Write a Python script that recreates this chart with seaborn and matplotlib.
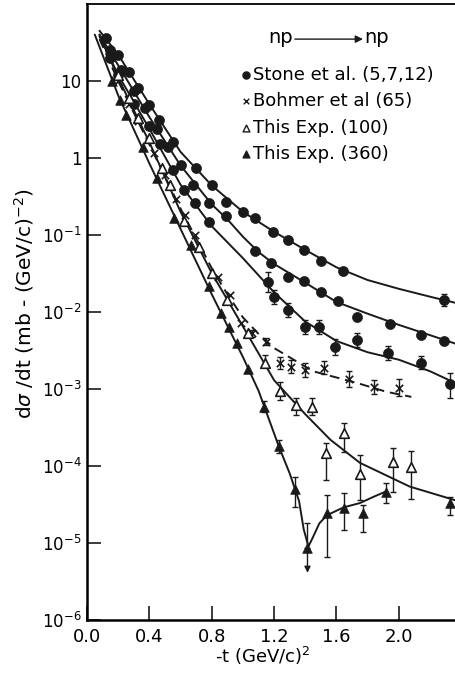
import numpy as np
import pandas as pd
import matplotlib
matplotlib.use("Agg")
import matplotlib.pyplot as plt
from matplotlib.ticker import NullLocator
import seaborn as sns

# values: -t in (GeV/c)^2, dsigma/dt in mb/(GeV/c)^2
# Stone et al., three momenta (upper, middle, lower curve)
stone1_t = [0.12, 0.2, 0.27, 0.33, 0.4, 0.46, 0.55, 0.7, 0.8, 0.89, 1.0, 1.08, 1.19, 1.29, 1.39, 1.5, 1.64, 2.29]
stone1_v = [36, 22, 13, 8.1, 4.9, 3.1, 1.6, 0.74, 0.45, 0.27, 0.2, 0.166, 0.109, 0.086, 0.064, 0.046, 0.034, 0.0143]
stone1_lo = [np.nan] * 17 + [0.012]
stone1_hi = [np.nan] * 17 + [0.017]
stone1_fit_t = [0.08, 0.2, 0.4, 0.6, 0.8, 1.0, 1.2, 1.4, 1.6, 1.8, 2.0, 2.2, 2.36]
stone1_fit_v = [45, 22, 5, 1.2, 0.44, 0.2, 0.11, 0.064, 0.038, 0.026, 0.020, 0.0158, 0.0132]

stone2_t = [0.15, 0.22, 0.3, 0.37, 0.45, 0.52, 0.6, 0.68, 0.78, 0.89, 1.08, 1.18, 1.29, 1.39, 1.5, 1.61, 1.73, 1.94, 2.14, 2.29]
stone2_v = [25, 14, 7.5, 4.5, 2.4, 1.4, 0.8, 0.45, 0.26, 0.177, 0.062, 0.043, 0.0285, 0.0253, 0.018, 0.0139, 0.0086, 0.007, 0.005, 0.0042]
stone2_fit_t = [0.08, 0.2, 0.4, 0.6, 0.8, 0.9, 1.0, 1.1, 1.2, 1.4, 1.6, 1.8, 2.0, 2.2, 2.36]
stone2_fit_v = [40, 16, 3.4, 0.8, 0.25, 0.16, 0.095, 0.06, 0.042, 0.024, 0.0135, 0.0095, 0.0068, 0.005, 0.0039]

stone3_t = [0.15, 0.2, 0.3, 0.4, 0.47, 0.55, 0.62, 0.69, 0.78, 1.16, 1.2, 1.29, 1.4, 1.49, 1.59, 1.73, 1.93, 2.14, 2.33]
stone3_v = [20, 12, 5, 2.6, 1.5, 0.7, 0.38, 0.26, 0.148, 0.0245, 0.0157, 0.0106, 0.0064, 0.0064, 0.0035, 0.0043, 0.0029, 0.0022, 0.00116]
stone3_lo = [np.nan] * 9 + [0.018, 0.0127, 0.0086, 0.0052, 0.0052, 0.0028, 0.0035, 0.0024, 0.0018, 0.00076]
stone3_hi = [np.nan] * 9 + [0.033, 0.0193, 0.013, 0.0079, 0.0079, 0.0044, 0.0053, 0.0036, 0.0027, 0.0016]
stone3_fit_t = [0.08, 0.2, 0.4, 0.6, 0.8, 1.0, 1.2, 1.4, 1.6, 1.8, 2.0, 2.2, 2.36]
stone3_fit_v = [38, 12, 2.4, 0.45, 0.13, 0.05, 0.018, 0.0075, 0.0042, 0.003, 0.0024, 0.0017, 0.0012]

# Bohmer et al. (65)
bohmer_t = [0.2, 0.27, 0.33, 0.43, 0.5, 0.57, 0.63, 0.69, 0.84, 0.92, 0.99, 1.06, 1.15, 1.24, 1.31, 1.4, 1.52, 1.68, 1.84, 2.0]
bohmer_v = [10, 5, 3, 1.16, 0.6, 0.29, 0.18, 0.1, 0.0285, 0.0166, 0.0072, 0.0053, 0.0041, 0.0022, 0.00195, 0.00178, 0.0019, 0.00135, 0.00107, 0.00103]
bohmer_lo = [np.nan] * 11 + [0.0047, 0.0037, 0.0018, 0.0016, 0.00145, 0.00155, 0.00107, 0.00087, 0.0008]
bohmer_hi = [np.nan] * 11 + [0.0059, 0.0046, 0.0026, 0.0024, 0.0022, 0.0023, 0.0017, 0.0013, 0.00133]
bohmer_fit_t = [0.08, 0.2, 0.4, 0.6, 0.8, 0.9, 1.0, 1.1, 1.2, 1.45, 1.73, 1.92, 2.08]
bohmer_fit_v = [35, 10, 1.5, 0.22, 0.037, 0.017, 0.0085, 0.0052, 0.0034, 0.0017, 0.0012, 0.00092, 0.00079]

# This experiment, 100 GeV/c (open triangles)
exp100_t = [0.2, 0.27, 0.33, 0.4, 0.48, 0.53, 0.62, 0.72, 0.8, 0.9, 1.03, 1.14, 1.24, 1.34, 1.44, 1.53, 1.65, 1.75, 1.96, 2.08]
exp100_v = [12, 6, 3.3, 1.8, 0.75, 0.45, 0.15, 0.07, 0.032, 0.0145, 0.0053, 0.0022, 0.00094, 0.00062, 0.00058,
            1.48e-4, 2.7e-4, 7.9e-5, 1.12e-4, 9.8e-5]
exp100_lo = [np.nan] * 11 + [0.00195, 0.00072, 0.00046, 0.00046, 6.6e-5, 1.5e-4, 3.6e-5, 4.6e-5, 3.7e-5]
exp100_hi = [np.nan] * 11 + [0.00275, 0.00123, 0.00076, 0.00076, 2.0e-4, 3.6e-4, 1.38e-4, 1.7e-4, 1.55e-4]
exp100_fit_t = [0.08, 0.2, 0.4, 0.6, 0.8, 1.0, 1.2, 1.4, 1.56, 1.75, 2.07, 2.36]
exp100_fit_v = [40, 11, 1.6, 0.2, 0.032, 0.0065, 0.0013, 0.00047, 0.00022, 0.00011, 5.4e-5, 3.6e-5]

# This experiment, 360 GeV/c (filled triangles); the dip point is an upper limit
exp360_t = [0.16, 0.21, 0.25, 0.36, 0.45, 0.56, 0.67, 0.78, 0.86, 0.91, 0.96, 1.03, 1.135, 1.23, 1.336, 1.414,
            1.54, 1.645, 1.77, 1.917, 2.33]
exp360_v = [10, 5.6, 3.6, 1.4, 0.55, 0.166, 0.075, 0.022, 0.0098, 0.0064, 0.004, 0.0018, 0.00059, 1.8e-4, 5.1e-5, 8.6e-6,
            2.45e-5, 2.85e-5, 2.45e-5, 4.6e-5, 3.3e-5]
exp360_lo = [np.nan] * 12 + [0.0005, 1.47e-4, 2.95e-5, 4.1e-6, 6.6e-6, 1.48e-5, 1.38e-5, 3.3e-5, 2.3e-5]
exp360_hi = [np.nan] * 12 + [0.00069, 2.2e-4, 7.2e-5, 1.8e-5, 4.2e-5, 4.5e-5, 3.1e-5, 6.0e-5, 4.0e-5]
exp360_limit = [False] * 15 + [True] + [False] * 5
exp360_fit_t = [0.05, 0.2, 0.4, 0.6, 0.8, 1.0, 1.1, 1.23, 1.3, 1.36, 1.39, 1.42, 1.45, 1.49, 1.54, 1.645, 1.75, 1.84, 1.92]
exp360_fit_v = [40, 6.5, 0.85, 0.12, 0.017, 0.0026, 0.00095, 0.00018, 8e-5, 3.5e-5, 1.5e-5, 9e-6, 1.2e-5, 1.8e-5,
                2.3e-5, 2.9e-5, 3.3e-5, 4e-5, 4.7e-5]

legend_labels = ["Stone et al. (5,7,12)", "Bohmer et al (65)", "This Exp. (100)", "This Exp. (360)"]
ytick_vals = [1e-6, 1e-5, 1e-4, 1e-3, 1e-2, 1e-1, 1, 10]
ytick_labels = ["$10^{-6}$", "$10^{-5}$", "$10^{-4}$", "$10^{-3}$", "$10^{-2}$", "$10^{-1}$", "1", "10"]
xtick_vals = [0.0, 0.4, 0.8, 1.2, 1.6, 2.0]

sns.set_theme(style="ticks")
plt.rcParams["font.family"] = ["DejaVu Sans"]
plt.rcParams["mathtext.fontset"] = "dejavusans"
for key in ["text.color", "axes.labelcolor", "xtick.color", "ytick.color", "axes.edgecolor"]:
    plt.rcParams[key] = "black"

fig = plt.figure(figsize=(4.55, 6.77), dpi=100)
ax = fig.add_axes([87 / 455, 57 / 677, 368 / 455, 616 / 677])
ax.set_yscale("log")
ax.set_xlim(0, 2.36)
ax.set_ylim(1e-6, 100)


def fit_line(t, v, dash=None):
    sns.lineplot(x=t, y=v, ax=ax, color="k", lw=1.4, estimator=None, sort=False, zorder=2)
    if dash is not None:
        ax.lines[-1].set_linestyle((0, dash))


def points(t, v, lo=None, hi=None, **kw):
    sns.scatterplot(x=t, y=v, ax=ax, zorder=4, clip_on=False, **kw)
    if lo is None:
        return
    df = pd.DataFrame({"t": t, "v": v, "lo": lo, "hi": hi}).dropna()
    ax.errorbar(df["t"], df["v"], yerr=[df["v"] - df["lo"], df["hi"] - df["v"]], fmt="none",
                ecolor="k", elinewidth=1.0, capsize=2.5, capthick=1.0, zorder=3)


fit_line(stone1_fit_t, stone1_fit_v)
fit_line(stone2_fit_t, stone2_fit_v)
fit_line(stone3_fit_t, stone3_fit_v)
fit_line(bohmer_fit_t, bohmer_fit_v, dash=(5, 3))
fit_line(exp100_fit_t, exp100_fit_v)
fit_line(exp360_fit_t, exp360_fit_v)

dot = dict(marker="o", s=52, color="k", edgecolor="k", linewidth=0.5)
points(stone1_t, stone1_v, stone1_lo, stone1_hi, **dot)
points(stone2_t, stone2_v, **dot)
points(stone3_t, stone3_v, stone3_lo, stone3_hi, **dot)
points(bohmer_t, bohmer_v, bohmer_lo, bohmer_hi, marker="x", s=28, color="k", linewidth=1.2)
points(exp100_t, exp100_v, exp100_lo, exp100_hi, marker="^", s=48, color="white", edgecolor="k", linewidth=1.2)

# filled triangles: ordinary bars, plus the upper limit drawn as an arrow
lim = np.array(exp360_limit)
t360, v360 = np.array(exp360_t), np.array(exp360_v)
lo360, hi360 = np.array(exp360_lo), np.array(exp360_hi)
points(t360, v360, np.where(lim, np.nan, lo360), np.where(lim, np.nan, hi360),
       marker="^", s=48, color="k", edgecolor="k", linewidth=0.5)
for t, v, lo, hi in zip(t360[lim], v360[lim], lo360[lim], hi360[lim]):
    ax.errorbar([t], [v], yerr=[[0], [hi - v]], fmt="none", ecolor="k", elinewidth=1.0, capsize=2.5, zorder=3)
    ax.annotate("", xy=(t, lo), xytext=(t, v),
                arrowprops=dict(arrowstyle="-|>", color="k", lw=1.0, mutation_scale=9, shrinkA=0, shrinkB=0))

# axes styling
ax.set_yticks(ytick_vals)
ax.set_yticklabels(ytick_labels)
ax.yaxis.set_minor_locator(NullLocator())
ax.set_xticks(xtick_vals)
ax.set_xticklabels([f"{x:.1f}" for x in xtick_vals])
ax.tick_params(axis="both", direction="in", length=10, width=1.2, color="k")
ax.tick_params(axis="x", pad=6, labelsize=13)
ax.tick_params(axis="y", pad=4, labelsize=12)
ax.spines["right"].set_visible(False)
ax.spines["left"].set_linewidth(1.8)
ax.spines["bottom"].set_linewidth(1.8)
ax.spines["top"].set_linewidth(1.3)
ax.set_xlabel("-t (GeV/c)$^2$", fontsize=13)
ax.xaxis.set_label_coords((263 - 87) / 368, -0.040)
ax.set_ylabel("d$\\sigma$ /dt (mb - (GeV/c)$^{-2}$)", fontsize=14.5)
ax.yaxis.set_label_coords(-0.139, 0.513)

# reaction label and legend written as text
ax.text(0.560, 0.946, "np", transform=ax.transAxes, fontsize=14, ha="right", va="center")
ax.text(0.753, 0.946, "np", transform=ax.transAxes, fontsize=14, ha="left", va="center")
ax.annotate("", xy=(0.750, 0.943), xytext=(0.565, 0.943), xycoords="axes fraction",
            arrowprops=dict(arrowstyle="-|>", color="k", lw=1.0, mutation_scale=11, shrinkA=0, shrinkB=0))

legend_y = [0.885, 0.843, 0.799, 0.756]
legend_style = [dict(marker="o", s=26, color="k", edgecolor="k"),
                dict(marker="x", s=16, color="k", linewidth=1.0),
                dict(marker="^", s=24, color="white", edgecolor="k", linewidth=1.0),
                dict(marker="^", s=24, color="k", edgecolor="k")]
for y, label, style in zip(legend_y, legend_labels, legend_style):
    ax.scatter([0.432], [y], transform=ax.transAxes, clip_on=False, zorder=5, **style)
    ax.text(0.451, y, label, transform=ax.transAxes, fontsize=13, ha="left", va="center")

fig.savefig("out.png", dpi=100)
